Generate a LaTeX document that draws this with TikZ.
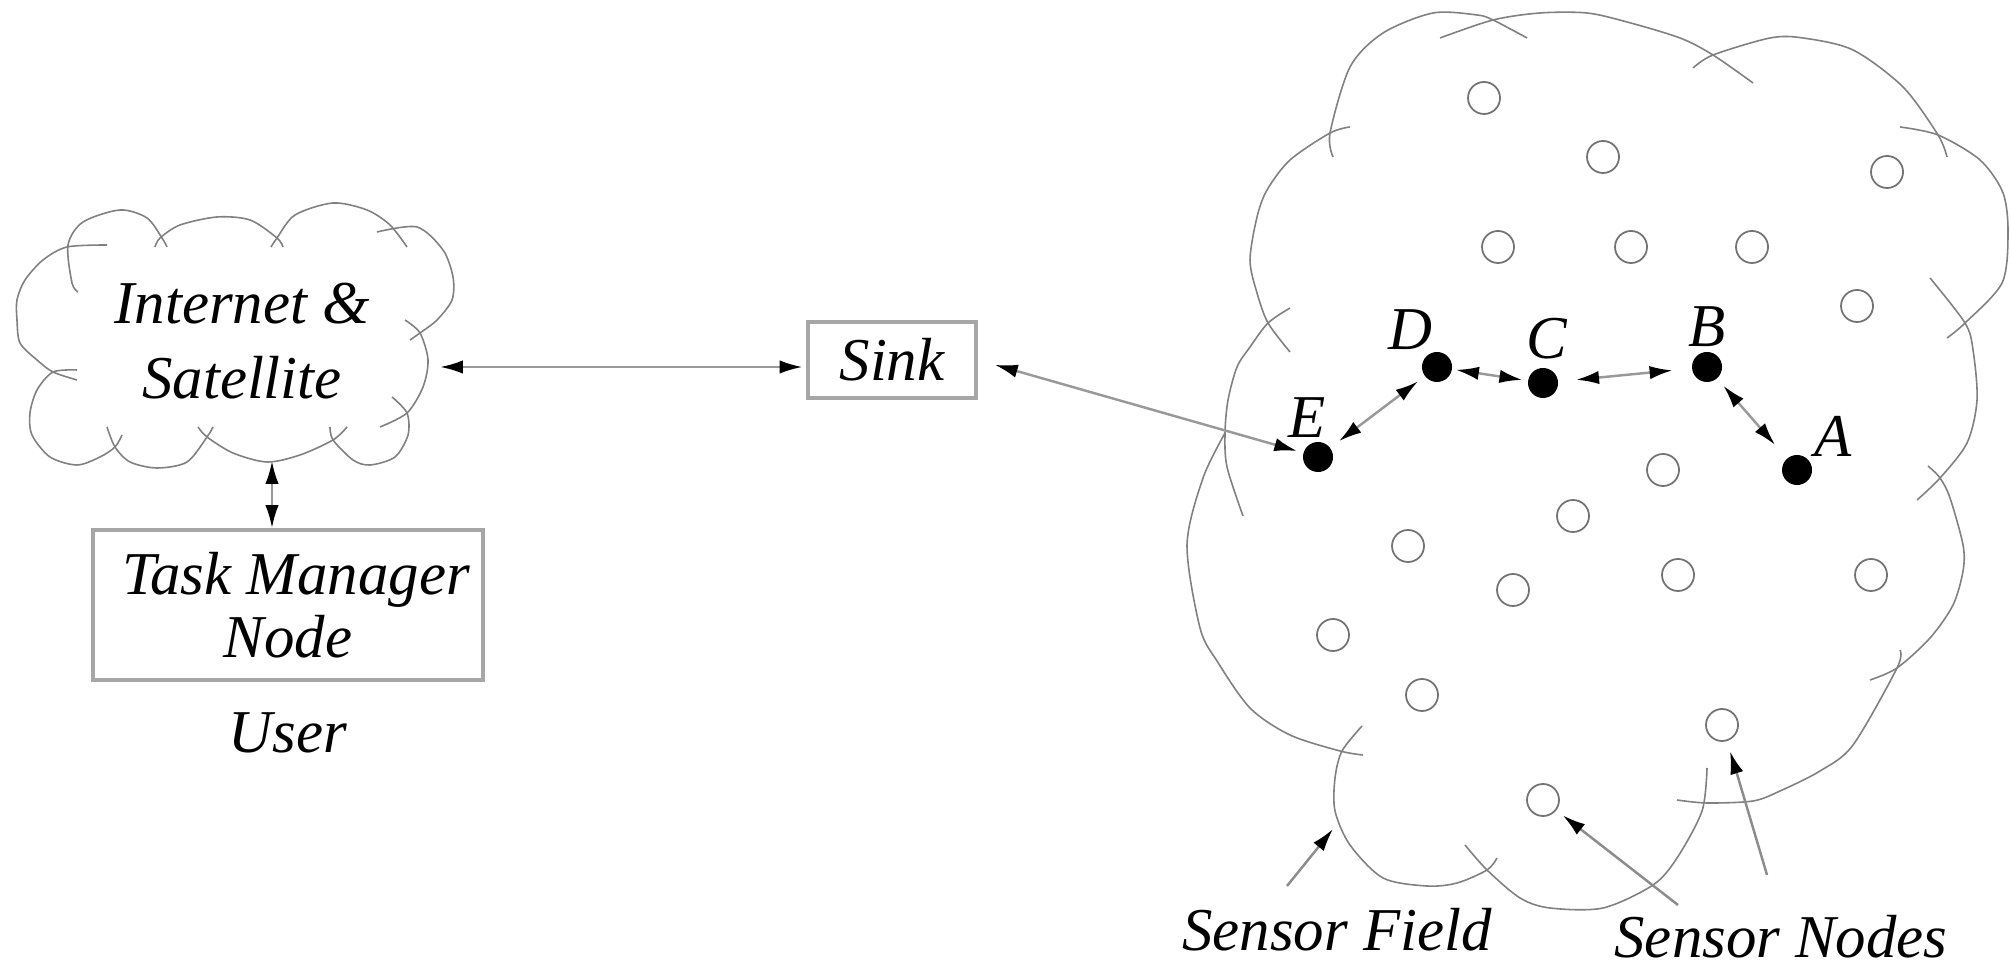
\documentclass[tikz,border=0pt]{standalone}
\usepackage{fontspec}
\setmainfont{Liberation Serif}
\usetikzlibrary{arrows.meta,positioning,calc}

\begin{document}
\begin{tikzpicture}[
    x=0.01cm, y=-0.01cm,
    font=\fontsize{17.3}{21.3}\selectfont\itshape,
    puff/.style={draw=black!50, line width=0.45pt},
    box/.style={rectangle, draw=black!35, line width=1.1pt, inner sep=0pt, align=center},
    dot/.style={circle, fill=black, inner sep=0pt, minimum size=0.3cm, label distance=3pt},
    sensor/.style={circle, draw=black!55, line width=0.5pt, inner sep=0pt, minimum size=0.32cm},
    lbl/.style={inner sep=1pt},
    link/.style={{Latex[length=6.5pt,width=3.8pt,color=black]}-{Latex[length=6.5pt,width=3.8pt,color=black]}, draw=black!40, line width=0.7pt},
    ptr/.style={-{Latex[length=6.5pt,width=3.8pt,color=black]}, draw=black!45, line width=0.7pt}
]
    \useasboundingbox (0,0) rectangle (2010,968);

    % --- 1. Clouds ---

    % Internet & Satellite cloud
    \draw[puff] plot[smooth] coordinates {(78,292) (72,283) (68,245) (83,222) (120,210) (147,218) (162,238) (167,247)};
    \draw[puff] plot[smooth] coordinates {(155,247) (160,238) (180,225) (217,217) (250,220) (277,238) (283,247)};
    \draw[puff] plot[smooth] coordinates {(271,247) (277,238) (295,215) (333,203) (367,210) (390,225) (407,247)};
    \draw[puff] plot[smooth] coordinates {(377,232) (417,227) (443,250) (453,277) (452,300) (437,320) (420,333) (410,340)};
    \draw[puff] plot[smooth] coordinates {(405,320) (420,333) (428,360) (423,387) (407,413) (380,427)};
    \draw[puff] plot[smooth] coordinates {(330,427) (333,440) (353,460) (370,465) (395,457) (408,435) (407,413) (392,397)};
    \draw[puff] plot[smooth] coordinates {(198,427) (207,437) (233,453) (267,462) (300,455) (333,440) (347,427)};
    \draw[puff] plot[smooth] coordinates {(107,427) (115,447) (130,462) (157,468) (187,462) (207,437) (213,427)};
    \draw[puff] plot[smooth] coordinates {(77,370) (53,372) (37,390) (30,413) (32,435) (50,457) (77,465) (100,457) (115,447) (122,435)};
    \draw[puff] plot[smooth] coordinates {(107,245) (67,247) (43,260) (25,280) (17,300) (17,320) (20,343) (37,360) (53,372) (77,380)};

    % Sensor field cloud
    \draw[puff] plot[smooth] coordinates {(1333,157) (1330,133) (1350,67) (1383,33) (1433,13) (1477,15) (1493,20) (1527,38)};
    \draw[puff] plot[smooth] coordinates {(1440,38) (1493,20) (1540,13) (1587,13) (1627,22) (1680,38) (1713,55) (1753,83)};
    \draw[puff] plot[smooth] coordinates {(1693,68) (1713,55) (1770,38) (1803,38) (1853,50) (1903,87) (1938,135) (1947,157)};
    \draw[puff] plot[smooth] coordinates {(1900,127) (1938,135) (1980,160) (2003,193) (2008,233) (2002,283) (1965,323) (1947,338)};
    \draw[puff] plot[smooth] coordinates {(1930,278) (1965,323) (1973,350) (1977,400) (1967,443) (1940,478) (1917,500)};
    \draw[puff] plot[smooth] coordinates {(1928,466) (1940,478) (1950,498) (1963,545) (1963,571) (1953,605) (1930,638) (1897,668) (1870,680)};
    \draw[puff] plot[smooth] coordinates {(1900,650) (1897,668) (1853,745) (1820,771) (1780,791) (1753,801) (1707,803) (1677,800)};
    \draw[puff] plot[smooth] coordinates {(1465,845) (1487,870) (1520,898) (1550,908) (1603,908) (1653,885) (1677,858) (1702,811) (1707,768)};
    \draw[puff] plot[smooth] coordinates {(1362,726) (1342,751) (1335,778) (1335,811) (1350,845) (1383,878) (1427,886) (1457,883) (1487,870) (1497,858)};
    \draw[puff] plot[smooth] coordinates {(1225,433) (1203,478) (1187,545) (1200,628) (1217,661) (1250,708) (1290,735) (1340,751) (1363,755)};
    \draw[puff] plot[smooth] coordinates {(1290,308) (1268,323) (1250,347) (1237,367) (1228,400) (1225,433) (1227,467) (1243,516)};
    \draw[puff] plot[smooth] coordinates {(1350,127) (1330,133) (1290,160) (1267,190) (1257,217) (1250,260) (1257,293) (1268,323) (1290,352)};

    % --- 2. User side ---
    \node[align=center] (inet) at (242,341) {Internet \&\\Satellite};
    \node[box, minimum width=3.9cm, minimum height=1.5cm, font=\fontsize{17.3}{18}\selectfont\itshape] (task) at (288,605) {\hspace{0.16cm}Task Manager\\Node};
    \node[below=0.18cm of task] (user) {User};
    \node[box, minimum width=1.68cm, minimum height=0.76cm] (sink) at (892,360) {Sink};

    \coordinate (inetE) at (440,367);
    \coordinate (inetS) at (272,461);

    % --- 3. Sensor nodes ---
    \foreach \x/\y [count=\i] in {1484/98, 1603/157, 1887/172, 1498/247, 1631/247, 1752/247,
        1857/306, 1663/470, 1573/516, 1408/546, 1678/575, 1513/590, 1871/575, 1333/635,
        1422/695, 1722/725, 1543/800}
        \node[sensor] (n\i) at (\x,\y) {};

    \node[dot, label={[lbl, xshift=-3pt]above:E}] (E) at (1318,457) {};
    \node[dot, label distance=0pt, label={[lbl, xshift=2pt]120:D}] (D) at (1437,367) {};
    \node[dot, label={[lbl, xshift=1pt, yshift=1pt]above:C}] (C) at (1543,383) {};
    \node[dot, label={[lbl]above:B}] (B) at (1707,367) {};
    \node[dot, label distance=4pt, label={[lbl]35:A}] (A) at (1797,470) {};

    \node[anchor=base, inner sep=1pt] (fieldlbl) at (1337,950) {Sensor Field};
    \node[anchor=base, inner sep=1pt] (nodeslbl) at (1781,957) {Sensor Nodes};

    \coordinate (fieldTail) at (1287,886);
    \coordinate (fieldTip) at (1333,829);
    \coordinate (nodesTailA) at (1678,905);
    \coordinate (nodesTailB) at (1767,875);

    % --- 4. Connections ---
    \draw[link, shorten >=1pt] (inetE) -- (inetE -| sink.west);
    \draw[link] (inetS) -- (inetS |- task.north);
    \draw[link, shorten <=5pt, shorten >=1.7pt] (sink.east) -- (E);
    \draw[link, shorten <=3pt, shorten >=2.3pt] (E) -- (D);
    \draw[link, shorten <=1pt, shorten >=1.5pt] (D) -- (C);
    \draw[link, shorten <=5pt, shorten >=5.4pt] (C) -- (B);
    \draw[link, shorten <=2.6pt, shorten >=5pt] (B) -- (A);

    % pointers to the labels
    \draw[ptr] (fieldTail) -- (fieldTip);
    \draw[ptr, shorten >=2.3pt] (nodesTailA) -- (n17);
    \draw[ptr, shorten >=3pt] (nodesTailB) -- (n16);

\end{tikzpicture}
\end{document}
